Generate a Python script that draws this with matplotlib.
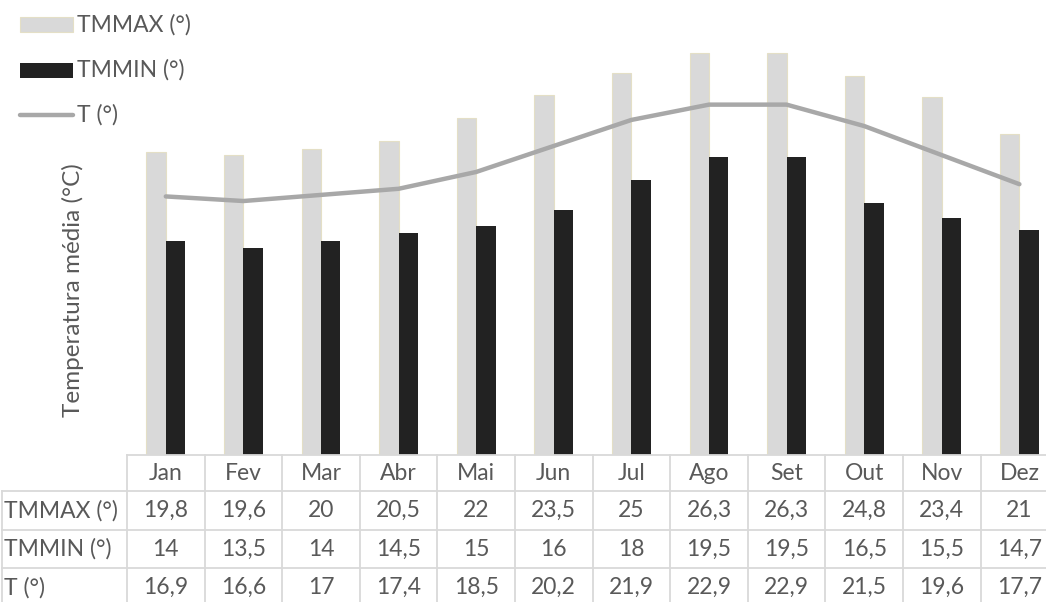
import matplotlib
matplotlib.use("Agg")
import matplotlib.pyplot as plt
from matplotlib.patches import Rectangle
from matplotlib.lines import Line2D
import numpy as np

plt.rcParams.update({'font.family': 'Lato', 'font.size': 16.5})

months = ['Jan', 'Fev', 'Mar', 'Abr', 'Mai', 'Jun', 'Jul', 'Ago', 'Set', 'Out', 'Nov', 'Dez']
tmmax = [19.8, 19.6, 20, 20.5, 22, 23.5, 25, 26.3, 26.3, 24.8, 23.4, 21]
tmmin = [14, 13.5, 14, 14.5, 15, 16, 18, 19.5, 19.5, 16.5, 15.5, 14.7]
tmed = [16.9, 16.6, 17, 17.4, 18.5, 20.2, 21.9, 22.9, 22.9, 21.5, 19.6, 17.7]
row_names = ['TMMAX (°)', 'TMMIN (°)', 'T (°)']

c_max, c_max_edge = '#D9D9D9', '#E4DFC6'
c_min = '#222222'
c_line = '#A8A8A8'
c_grid = '#D9D9D9'
c_text = '#595959'

W, H = 1046, 602
fig = plt.figure(figsize=(W / 100, H / 100), dpi=100)

# layout in pixels: month column width, left column width, plot baseline
col_w = 77.6
left_w = 127
base_y = 455
y_scale = 15.3  # px per degree

n = len(months)
ax = fig.add_axes([left_w / W, (H - base_y) / H, n * col_w / W, base_y / H])
ax.set_xlim(0, n)
ax.set_ylim(0, base_y / y_scale)
ax.axis('off')

x = np.arange(n) + 0.5
bw = 0.25
ax.bar(x - bw / 2, tmmax, bw, color=c_max, edgecolor=c_max_edge, linewidth=0.8, zorder=2)
ax.bar(x + bw / 2, tmmin, bw, color=c_min, zorder=2)
ax.plot(x, tmed, color=c_line, lw=3.2, solid_capstyle='round', solid_joinstyle='round', zorder=3)

# data table underneath, sharing the month columns
rows_y = [base_y, 491.5, 530, 568.3, 606.6]
tab_h = rows_y[-1] - base_y
tx0 = -left_w / col_w
tab = fig.add_axes([0, (H - rows_y[-1]) / H, (left_w + n * col_w) / W, tab_h / H])
tab.set_xlim(tx0, n)
tab.set_ylim(rows_y[-1], base_y)
tab.axis('off')

lw = 1.3
tab.plot([0, n], [rows_y[0]] * 2, color=c_grid, lw=lw, clip_on=False)
for yy in rows_y[1:]:
    tab.plot([tx0 + 2 / col_w, n], [yy] * 2, color=c_grid, lw=lw, clip_on=False)
tab.plot([tx0 + 2 / col_w] * 2, [rows_y[1], rows_y[-1]], color=c_grid, lw=lw, clip_on=False)
for k in range(n + 1):
    tab.plot([k, k], [rows_y[0], rows_y[-1]], color=c_grid, lw=lw, clip_on=False)

def fmt(v):
    s = ('%.1f' % v).rstrip('0').rstrip('.')
    return s.replace('.', ',')

mid = [(rows_y[i] + rows_y[i + 1]) / 2 for i in range(4)]
for i, m in enumerate(months):
    tab.text(i + 0.5, mid[0], m, ha='center', va='center', color=c_text)
for r, (name, vals) in enumerate(zip(row_names, [tmmax, tmmin, tmed])):
    tab.text(tx0 + 4 / col_w, mid[r + 1], name, ha='left', va='center', color=c_text)
    for i, v in enumerate(vals):
        tab.text(i + 0.5, mid[r + 1], fmt(v), ha='center', va='center', color=c_text)

# y axis title
fig.text(73 / W, 1 - 290 / H, 'Temperatura média (°C)', rotation=90,
         ha='center', va='center', color=c_text, fontsize=17.5)

# legend, top left
def fx(px):
    return px / W

def fy(py):
    return 1 - py / H

fig.add_artist(Rectangle((fx(20), fy(32.3)), fx(53), 15 / H, facecolor=c_max,
                         edgecolor=c_max_edge, lw=0.8, transform=fig.transFigure))
fig.add_artist(Rectangle((fx(20), fy(77.5)), fx(53), 15 / H, facecolor=c_min,
                         edgecolor='none', transform=fig.transFigure))
fig.add_artist(Line2D([fx(20), fx(73)], [fy(115)] * 2, color=c_line, lw=3.2,
                      solid_capstyle='round', transform=fig.transFigure))
for py, name in zip([25, 70, 115], row_names):
    fig.text(fx(77), fy(py), name, ha='left', va='center', color=c_text)

fig.savefig('out.png', dpi=100)
